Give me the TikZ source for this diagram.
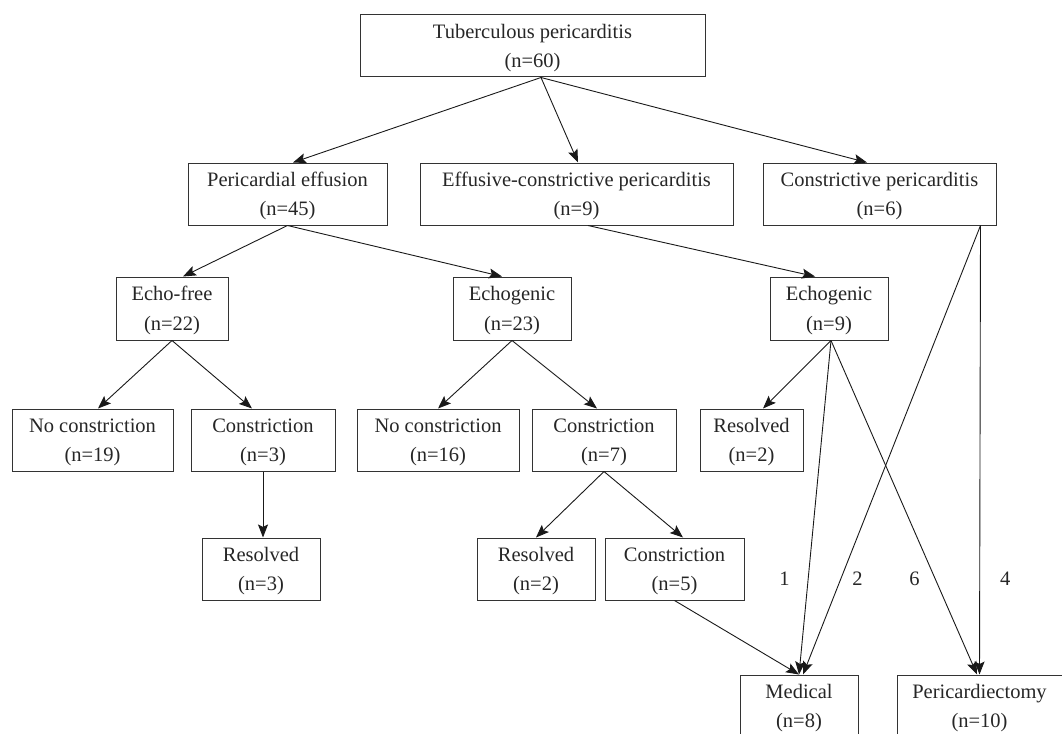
\documentclass[tikz,border=0pt]{standalone}
\usepackage{fontspec}
\setmainfont{Liberation Serif}
\usepackage{xcolor}
\colorlet{colorBox}{black!80}
\colorlet{colorArrow}{black!90}
\colorlet{colorText}{black!85}
\usepackage{tikz}
\usetikzlibrary{arrows.meta, positioning}
\tikzset{box/.style={draw=colorBox, line width=1pt, align=center, minimum height=62pt, inner sep=0pt, text depth=0pt, text=colorText, font=\fontsize{20.5}{29.5}\selectfont}}
\tikzset{count/.style={inner sep=0pt, text=colorText, font=\fontsize{20.5}{30}\selectfont}}

\begin{document}
\begin{tikzpicture}[>={Stealth[length=13pt, width=10pt, inset=2.5pt]}, x=1pt, y=-1pt, line width=0.9pt]
\useasboundingbox (0,0) rectangle (1062,733);
% levels, top to bottom
\node[box, minimum width=345pt] (tp) at (532.5,46) {Tuberculous pericarditis\\(n=60)};
\node[box, minimum width=199pt] (pe) at (287.5,194) {Pericardial effusion\\(n=45)};
\node[box, minimum width=313pt] (ecp) at (576.5,194) {Effusive-constrictive pericarditis\\(n=9)};
\node[box, minimum width=233pt] (cp) at (879.5,194) {Constrictive pericarditis\\(n=6)};
\node[box, minimum width=112pt, minimum height=63pt] (ef) at (172,308.5) {Echo-free\\(n=22)};
\node[box, minimum width=118pt, minimum height=63pt] (eg1) at (512,308.5) {Echogenic\\(n=23)};
\node[box, minimum width=118pt, minimum height=63pt] (eg2) at (829,308.5) {Echogenic\\(n=9)};
\node[box, minimum width=161pt] (nc1) at (92.5,440) {No constriction\\(n=19)};
\node[box, minimum width=144pt] (c1) at (263,440) {Constriction\\(n=3)};
\node[box, minimum width=162pt] (nc2) at (438,440) {No constriction\\(n=16)};
\node[box, minimum width=144pt] (c2) at (604,440) {Constriction\\(n=7)};
\node[box, minimum width=103pt] (r3) at (751.5,440) {Resolved\\(n=2)};
\node[box, minimum width=118pt] (r1) at (261,569) {Resolved\\(n=3)};
\node[box, minimum width=118pt] (r2) at (536,569) {Resolved\\(n=2)};
\node[box, minimum width=139pt] (c3) at (674.5,569) {Constriction\\(n=5)};
\node[box, minimum width=118pt] (med) at (799,706) {Medical\\(n=8)};
\node[box, minimum width=165pt] (pcd) at (979.5,706) {Pericardiectomy\\(n=10)};
% connectors
\path [->, colorArrow] ([xshift=8.5pt]tp.south) edge ([xshift=5.5pt]pe.north) edge ([xshift=1.5pt]ecp.north) edge ([xshift=-12.5pt]cp.north);
\path [->, colorArrow] (pe.south) edge ([xshift=11pt]ef.north) edge ([xshift=-10pt]eg1.north);
\path [->, colorArrow] ([xshift=11.5pt]ecp.south) edge ([xshift=-14pt]eg2.north);
\path [->, colorArrow] (ef.south) edge ([xshift=5.5pt]nc1.north) edge ([xshift=-11pt]c1.north);
\path [->, colorArrow] (eg1.south) edge (nc2.north) edge ([xshift=-7pt]c2.north);
\path [->, colorArrow] ([xshift=2pt]eg2.south) edge ([xshift=11.5pt]r3.north)
  edge node[count, pos=.713, left=18pt]{1} (med.north)
  edge node[count, pos=.713, left=15pt]{6} ([xshift=-2.5pt]pcd.north);
\path [->, colorArrow] (c1.south) edge (c1.south |- r1.north);
\path [->, colorArrow] (c2.south) edge (r2.north) edge ([xshift=8.5pt]c3.north);
\path [->, colorArrow] (c3.south) edge (med.north);
\path [->, colorArrow] ([xshift=-16pt]cp.south east) edge node[count, pos=.787, right=11pt]{2} ([xshift=4pt]med.north)
  edge node[count, pos=.787, right=20pt]{4} (pcd.north);
\end{tikzpicture}
\end{document}
